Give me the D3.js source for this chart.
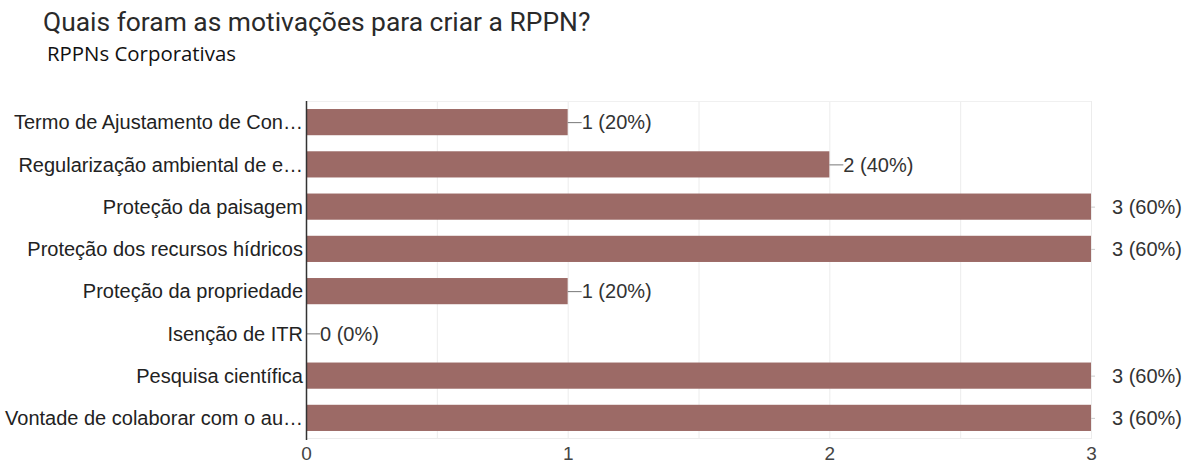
<!DOCTYPE html>
<html>
<head>
<meta charset="utf-8">
<script src="https://cdn.jsdelivr.net/npm/d3@7"></script>
<style>
  body { margin: 0; background: #fff; }
  svg { display: block; }
</style>
</head>
<body>
<div id="chart"></div>
<script>
// data
const categories = [
  "Termo de Ajustamento de Con…",
  "Regularização ambiental de e…",
  "Proteção da paisagem",
  "Proteção dos recursos hídricos",
  "Proteção da propriedade",
  "Isenção de ITR",
  "Pesquisa científica",
  "Vontade de colaborar com o au…"
];
const counts = [1, 2, 3, 3, 1, 0, 3, 3];
const percents = ["20%", "40%", "60%", "60%", "20%", "0%", "60%", "60%"];
const xTicks = [0, 1, 2, 3];
const gridTicks = [0.5, 1, 1.5, 2, 2.5, 3];

const W = 1188, H = 471;
const margin = { top: 101, right: 97, bottom: 32, left: 306 };
const width = W - margin.left - margin.right,
    height = H - margin.top - margin.bottom;

const FONT = "'Liberation Sans', Arial, sans-serif";

const svg = d3.select("#chart")
    .append("svg")
    .attr("width", W)
    .attr("height", H);

// title + subtitle
svg.append("text")
    .attr("x", 43)
    .attr("y", 31)
    .style("font-family", "Roboto, Arial, sans-serif")
    .style("font-size", "26.4px")
    .style("fill", "#2a2a2a")
    .text("Quais foram as motivações para criar a RPPN?");

svg.append("text")
    .attr("x", 47)
    .attr("y", 61)
    .style("font-family", "'Open Sans', 'Noto Sans', sans-serif")
    .style("font-size", "20.4px")
    .style("fill", "#111")
    .text("RPPNs Corporativas");

const g = svg.append("g")
    .attr("transform", `translate(${margin.left}, ${margin.top})`);

const x = d3.scaleLinear()
    .domain([0, 3])
    .range([0, width]);

const y = d3.scaleBand()
    .domain(categories)
    .range([0, height])
    .paddingInner(0.38)
    .paddingOuter(0.19);

// gridlines
g.append("g")
    .selectAll("line")
    .data(gridTicks)
    .join("line")
    .attr("x1", d => x(d) + 0.5)
    .attr("x2", d => x(d) + 0.5)
    .attr("y1", 0)
    .attr("y2", height)
    .style("stroke", "#ececec")
    .style("stroke-width", 1);

g.append("line")
    .attr("x1", 0).attr("x2", width)
    .attr("y1", 0.5).attr("y2", 0.5)
    .style("stroke", "#f0f0f0");
g.append("line")
    .attr("x1", 0).attr("x2", width)
    .attr("y1", height - 0.5).attr("y2", height - 0.5)
    .style("stroke", "#ececec");

// bars
g.selectAll(".bar")
    .data(categories)
    .join("rect")
    .attr("class", "bar")
    .attr("x", 0)
    .attr("y", d => y(d))
    .attr("width", (d, i) => x(counts[i]))
    .attr("height", y.bandwidth())
    .style("fill", "#9c6a66");

// value labels with little leader lines
const lab = g.selectAll(".val")
    .data(categories)
    .join("g")
    .attr("class", "val")
    .attr("transform", (d, i) => `translate(${x(counts[i])}, ${y(d) + y.bandwidth() / 2})`);

lab.append("line")
    .attr("x1", 0)
    .attr("x2", (d, i) => counts[i] === 3 ? 4 : 14)
    .attr("y1", 0.5).attr("y2", 0.5)
    .style("stroke", (d, i) => counts[i] === 3 ? "#ccc" : "#777")
    .style("stroke-width", 1);

lab.append("text")
    .attr("x", (d, i) => counts[i] === 3 ? 21 : 14)
    .attr("dy", "0.36em")
    .style("font-family", FONT)
    .style("font-size", "20px")
    .style("fill", "#333")
    .text((d, i) => `${counts[i]} (${percents[i]})`);

// y axis labels
g.append("g")
    .call(d3.axisLeft(y).tickSize(0).tickPadding(3))
    .call(a => a.select(".domain").remove())
    .selectAll("text")
    .attr("dy", "0.36em")
    .style("font-family", FONT)
    .style("font-size", "20px")
    .style("fill", "#222");

// axis line at zero
g.append("line")
    .attr("x1", 0.5).attr("x2", 0.5)
    .attr("y1", 0).attr("y2", height + 1)
    .style("stroke", "#333")
    .style("stroke-width", 1.5);

// x axis ticks
g.append("g")
    .attr("transform", `translate(0, ${height})`)
    .call(d3.axisBottom(x).tickValues(xTicks).tickFormat(d3.format("d")).tickSize(0).tickPadding(8))
    .call(a => a.select(".domain").remove())
    .selectAll("text")
    .style("font-family", FONT)
    .style("font-size", "19px")
    .style("fill", "#444");
</script>
</body>
</html>
